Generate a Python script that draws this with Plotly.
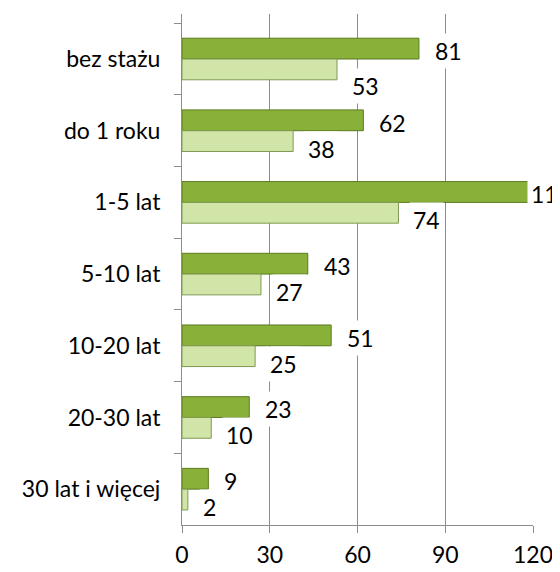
import plotly.graph_objects as go

categories = ["bez stażu", "do 1 roku", "1-5 lat", "5-10 lat", "10-20 lat", "20-30 lat", "30 lat i więcej"]
series_dark = [81, 62, 119, 43, 51, 23, 9]
series_light = [53, 38, 74, 27, 25, 10, 2]
x_ticks = [0, 30, 60, 90, 120]

FONT = "Lato, 'Noto Sans', sans-serif"
GRID = "#8c8c8c"

fig = go.Figure()
fig.add_trace(go.Bar(
    y=categories, x=series_dark, orientation="h", name="dark",
    marker=dict(color="#89b13a", line=dict(color="#5b7a1e", width=1)),
))
fig.add_trace(go.Bar(
    y=categories, x=series_light, orientation="h", name="light",
    marker=dict(color="#d2e5a8", line=dict(color="#7f9a52", width=1)),
))

# small per-label nudges (pixels) mimicking the reference's label placement
label_xnudge_dark = {"1-5 lat": -15}
label_ynudge_light = {"bez stażu": -9}
annotations = []
for cat, v in zip(categories, series_dark):
    annotations.append(dict(x=v, y=cat, xref="x", yref="y", text=str(v),
                            showarrow=False, xanchor="left", yanchor="middle",
                            xshift=12 + label_xnudge_dark.get(cat, 0), yshift=8,
                            bgcolor="white", borderpad=3,
                            font=dict(family=FONT, size=23, color="black")))
for cat, v in zip(categories, series_light):
    annotations.append(dict(x=v, y=cat, xref="x", yref="y", text=str(v),
                            showarrow=False, xanchor="left", yanchor="middle",
                            xshift=11, yshift=-18 + label_ynudge_light.get(cat, 0),
                            bgcolor="white", borderpad=3,
                            font=dict(family=FONT, size=23, color="black")))

# page body has an 8px margin, so the figure is 8px smaller and offset
fig.update_layout(
    width=552, height=564,
    margin=dict(l=174, r=27, t=6, b=47),
    paper_bgcolor="white", plot_bgcolor="white",
    barmode="group", bargap=0.42, bargroupgap=0,
    showlegend=False,
    font=dict(family=FONT, size=23, color="black"),
    annotations=annotations,
    xaxis=dict(range=[0, 120], tickvals=x_ticks, showgrid=True, gridcolor=GRID, gridwidth=1,
               showline=True, linecolor=GRID, linewidth=1, ticks="outside", ticklen=7,
               tickcolor=GRID, zeroline=False, automargin=False, ticklabelstandoff=2,
               tickfont=dict(family=FONT, size=23, color="black")),
    yaxis=dict(autorange="reversed", showline=True, linecolor=GRID, linewidth=1,
               ticks="outside", ticklen=7, tickcolor=GRID, tickson="boundaries",
               showgrid=False, automargin=False, ticklabelstandoff=16,
               tickfont=dict(family=FONT, size=23, color="black")),
)

fig.write_html("out.html")
